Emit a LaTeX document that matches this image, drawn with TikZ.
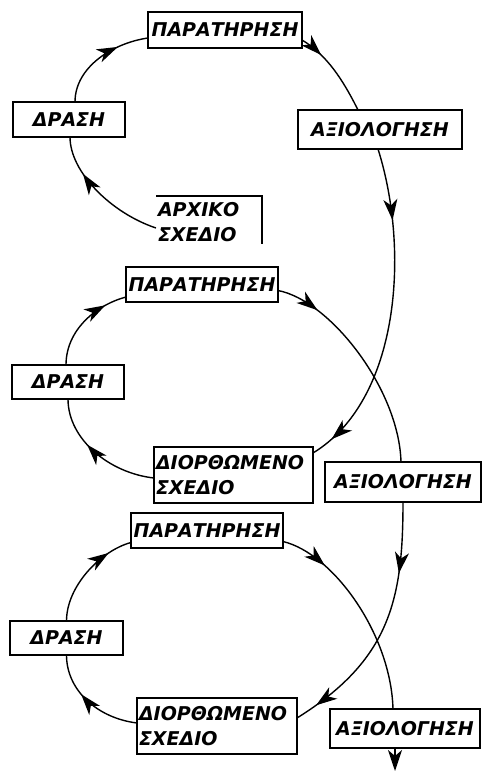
\documentclass[tikz,border=0pt]{standalone}
\usepackage{fontspec}
\newfontfamily\lbl{DejaVu Sans}
\usetikzlibrary{arrows.meta,decorations.markings}
\tikzset{
  box/.style={draw, line width=1.9pt, inner sep=0pt, outer sep=0pt,
    font=\lbl\bfseries\itshape\fontsize{19}{22}\selectfont},
  twoline/.style={box, text width=#1, align=left, inner xsep=2pt,
    font=\lbl\bfseries\itshape\fontsize{19}{25}\selectfont},
  link/.style={line width=1.4pt},
  head/.tip={Stealth[length=21pt,width=14pt,inset=6pt]},
  tip/.style={postaction={decorate}, decoration={markings,
    mark=at position #1 with {\arrow{head}}}},
  tiptwo/.style 2 args={postaction={decorate}, decoration={markings,
    mark=at position #1 with {\arrow{head}},
    mark=at position #2 with {\arrow{head}}}},
}
\begin{document}
\begin{tikzpicture}[x=1pt,y=-1pt]
\useasboundingbox (0,0) rectangle (484,771);

% first cycle
\node[box, minimum width=154, minimum height=36] (obs1) at (225,30) {ΠΑΡΑΤΗΡΗΣΗ};
\node[box, minimum width=112, minimum height=35] (act1) at (69,119.5) {ΔΡΑΣΗ};
\node[box, minimum width=164, minimum height=39] (eval1) at (380,129.5) {ΑΞΙΟΛΟΓΗΣΗ};
\node[twoline=102pt, draw=none, minimum height=52, anchor=north west] (plan0) at (156,196) {ΑΡΧΙΚΟ\\ΣΧΕΔΙΟ};
\draw[line width=1.9pt] (plan0.north west) -- (plan0.north east) -- ([yshift=4pt]plan0.south east);

% second cycle
\node[box, minimum width=152, minimum height=35] (obs2) at (202,284.5) {ΠΑΡΑΤΗΡΗΣΗ};
\node[box, minimum width=112, minimum height=34] (act2) at (68,382) {ΔΡΑΣΗ};
\node[twoline=155pt, minimum height=56] (plan2) at (233.5,475) {ΔΙΟΡΘΩΜΕΝΟ\\ΣΧΕΔΙΟ};
\node[box, minimum width=156, minimum height=40] (eval2) at (403,482) {ΑΞΙΟΛΟΓΗΣΗ};

% third cycle
\node[box, minimum width=152, minimum height=35] (obs3) at (207,530.5) {ΠΑΡΑΤΗΡΗΣΗ};
\node[box, minimum width=113, minimum height=34] (act3) at (66.5,638) {ΔΡΑΣΗ};
\node[twoline=156pt, minimum height=56] (plan3) at (217,726) {ΔΙΟΡΘΩΜΕΝΟ\\ΣΧΕΔΙΟ};
\node[box, minimum width=150, minimum height=39] (eval3) at (405,728.5) {ΑΞΙΟΛΟΓΗΣΗ};
\coordinate (out) at (395,771);

% connectors of the first cycle
\draw[link, tip=0.7] ([yshift=-6pt]plan0.west) .. controls +(-45,-15) and +(0,35) .. ([xshift=1pt]act1.south);
\draw[link, tip=0.7] ([xshift=6pt]act1.north) .. controls +(0,-35) and +(-35,5) .. ([yshift=-8pt]obs1.west);
\draw[link, tip=0.27] ([yshift=-10pt]obs1.east) .. controls +(25,15) and +(-15,-30) .. ([xshift=-22pt]eval1.north);
\draw[link, tiptwo={0.22}{0.93}] ([xshift=-2pt]eval1.south) .. controls +(32,101) and +(87,-53) .. ([yshift=22pt]plan2.east);

% connectors of the second cycle
\draw[link, tip=0.6] ([yshift=-3pt]plan2.west) .. controls +(-45,-5) and +(0,40) .. (act2.south);
\draw[link, tip=0.77] ([xshift=-2pt]act2.north) .. controls +(0,-35) and +(-30,8) .. ([yshift=-12.5pt]obs2.west);
\draw[link, tip=0.2] ([yshift=-6pt]obs2.east) .. controls +(52,10) and +(-2,-73) .. ([xshift=-2pt]eval2.north);
\draw[link, tiptwo={0.28}{0.91}] (eval2.south) .. controls +(0,98) and +(93,-58) .. ([yshift=8pt]plan3.east);

% connectors of the third cycle
\draw[link, tip=0.6] ([yshift=3pt]plan3.west) .. controls +(-40,-5) and +(0,35) .. (act3.south);
\draw[link, tip=0.77] (act3.north) .. controls +(0,-35) and +(-30,8) .. ([yshift=-12pt]obs3.west);
\draw[link, tip=0.23] ([yshift=-11pt]obs3.east) .. controls +(50,12) and +(-2,-75) .. ([xshift=-12pt]eval3.north);
\draw[link, -head] ([xshift=-10pt]eval3.south) -- (out);
\end{tikzpicture}
\end{document}
